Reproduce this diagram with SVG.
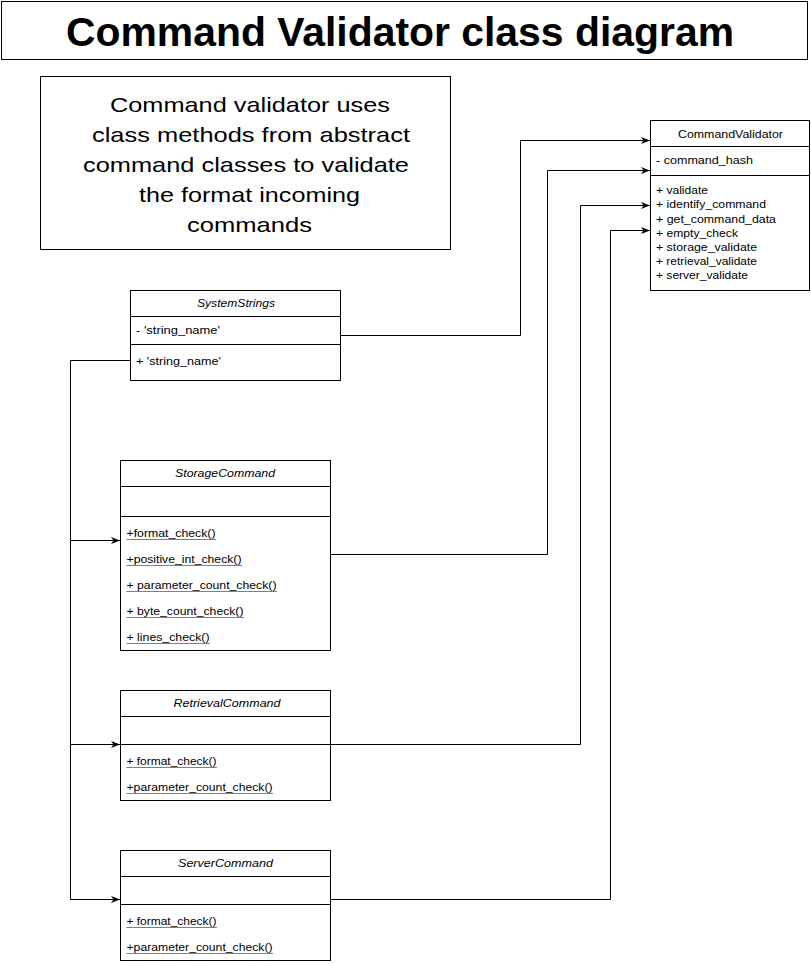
<svg xmlns="http://www.w3.org/2000/svg" width="811" height="964" viewBox="0 0 811 964">
<defs>
<marker id="arr" markerWidth="10" markerHeight="8" refX="9" refY="4" orient="auto" markerUnits="userSpaceOnUse">
<path d="M0,0.5 L9,4 L0,7.5 L2.5,4 Z" fill="#000"/>
</marker>
<style>
.box{fill:#fff;stroke:#000;stroke-width:1}
.ln{stroke:#000;stroke-width:1;fill:none}
.ul{stroke:#808080;stroke-width:1;fill:none}
.t{font-family:"Liberation Sans",Arial,sans-serif;font-size:11px;fill:#000}
.ti{font-family:"Liberation Sans",Arial,sans-serif;font-size:11px;font-style:italic;fill:#000;text-anchor:middle}
.tc{font-family:"Liberation Sans",Arial,sans-serif;font-size:11px;fill:#000;text-anchor:middle}
.nt{font-family:"Liberation Sans",Arial,sans-serif;font-size:21px;fill:#000;text-anchor:middle}
.con{stroke:#000;stroke-width:1;fill:none;marker-end:url(#arr)}
</style>
</defs>
<rect width="811" height="964" fill="#fff"/>
<g id="title">
<rect class="box" x="1.5" y="1.5" width="806" height="58"/>
<text x="400" y="46" font-family="Liberation Sans, Arial, sans-serif" font-size="41" font-weight="bold" text-anchor="middle" textLength="668" lengthAdjust="spacingAndGlyphs">Command Validator class diagram</text>
</g>
<g id="note">
<rect class="box" x="40.5" y="76.5" width="410" height="173"/>
<text class="nt" x="250" y="112" textLength="280" lengthAdjust="spacingAndGlyphs">Command validator uses</text>
<text class="nt" x="251" y="142" textLength="318" lengthAdjust="spacingAndGlyphs">class methods from abstract</text>
<text class="nt" x="246" y="172" textLength="326" lengthAdjust="spacingAndGlyphs">command classes to validate</text>
<text class="nt" x="249.5" y="202" textLength="221" lengthAdjust="spacingAndGlyphs">the format incoming</text>
<text class="nt" x="249.5" y="232" textLength="125" lengthAdjust="spacingAndGlyphs">commands</text>
</g>
<g id="CommandValidator">
<rect class="box" x="650.5" y="120.5" width="159" height="170"/>
<line class="ln" x1="650.5" y1="146.5" x2="809.5" y2="146.5"/>
<line class="ln" x1="650.5" y1="175.5" x2="809.5" y2="175.5"/>
<text class="tc" x="730.5" y="138" textLength="105" lengthAdjust="spacingAndGlyphs">CommandValidator</text>
<text class="t" x="656" y="164" textLength="97" lengthAdjust="spacingAndGlyphs">- command_hash</text>
<text class="t" x="656" y="194" textLength="52" lengthAdjust="spacingAndGlyphs">+ validate</text>
<text class="t" x="656" y="208" textLength="110" lengthAdjust="spacingAndGlyphs">+ identify_command</text>
<text class="t" x="656" y="222.5" textLength="120" lengthAdjust="spacingAndGlyphs">+ get_command_data</text>
<text class="t" x="656" y="236.5" textLength="82" lengthAdjust="spacingAndGlyphs">+ empty_check</text>
<text class="t" x="656" y="250.5" textLength="101" lengthAdjust="spacingAndGlyphs">+ storage_validate</text>
<text class="t" x="656" y="265" textLength="101" lengthAdjust="spacingAndGlyphs">+ retrieval_validate</text>
<text class="t" x="656" y="279" textLength="92" lengthAdjust="spacingAndGlyphs">+ server_validate</text>
</g>
<g id="SystemStrings">
<rect class="box" x="130.5" y="290.5" width="210" height="90"/>
<line class="ln" x1="130.5" y1="316.5" x2="340.5" y2="316.5"/>
<line class="ln" x1="130.5" y1="344.5" x2="340.5" y2="344.5"/>
<text class="ti" x="236" y="307" textLength="78" lengthAdjust="spacingAndGlyphs">SystemStrings</text>
<text class="t" x="136" y="334" textLength="84" lengthAdjust="spacingAndGlyphs">- 'string_name'</text>
<text class="t" x="136" y="365" textLength="85" lengthAdjust="spacingAndGlyphs">+ 'string_name'</text>
</g>
<g id="StorageCommand">
<rect class="box" x="120.5" y="460.5" width="210" height="190"/>
<line class="ln" x1="120.5" y1="486.5" x2="330.5" y2="486.5"/>
<line class="ln" x1="120.5" y1="516.5" x2="330.5" y2="516.5"/>
<text class="ti" x="225" y="477" textLength="100" lengthAdjust="spacingAndGlyphs">StorageCommand</text>
<text class="t" x="126.5" y="537" textLength="89" lengthAdjust="spacingAndGlyphs">+format_check()</text>
<text class="t" x="126.5" y="563" textLength="115" lengthAdjust="spacingAndGlyphs">+positive_int_check()</text>
<text class="t" x="126.5" y="589" textLength="150" lengthAdjust="spacingAndGlyphs">+ parameter_count_check()</text>
<text class="t" x="126.5" y="615" textLength="117" lengthAdjust="spacingAndGlyphs">+ byte_count_check()</text>
<text class="t" x="126.5" y="641" textLength="83" lengthAdjust="spacingAndGlyphs">+ lines_check()</text>
<path class="ul" d="M126.5,539.5H216M126.5,565.5H242M126.5,591.5H277M126.5,617.5H244M126.5,643.5H210"/>
</g>
<g id="RetrievalCommand">
<rect class="box" x="120.5" y="690.5" width="210" height="110"/>
<line class="ln" x1="120.5" y1="716.5" x2="330.5" y2="716.5"/>
<line class="ln" x1="120.5" y1="744.5" x2="330.5" y2="744.5"/>
<text class="ti" x="227" y="707" textLength="107" lengthAdjust="spacingAndGlyphs">RetrievalCommand</text>
<text class="t" x="126.5" y="765" textLength="90" lengthAdjust="spacingAndGlyphs">+ format_check()</text>
<text class="t" x="126.5" y="791" textLength="146" lengthAdjust="spacingAndGlyphs">+parameter_count_check()</text>
<path class="ul" d="M126.5,767.5H217M126.5,793.5H273"/>
</g>
<g id="ServerCommand">
<rect class="box" x="120.5" y="850.5" width="210" height="110"/>
<line class="ln" x1="120.5" y1="876.5" x2="330.5" y2="876.5"/>
<line class="ln" x1="120.5" y1="904.5" x2="330.5" y2="904.5"/>
<text class="ti" x="225.5" y="867" textLength="95" lengthAdjust="spacingAndGlyphs">ServerCommand</text>
<text class="t" x="126.5" y="925" textLength="90" lengthAdjust="spacingAndGlyphs">+ format_check()</text>
<text class="t" x="126.5" y="951" textLength="146" lengthAdjust="spacingAndGlyphs">+parameter_count_check()</text>
<path class="ul" d="M126.5,927.5H217M126.5,953.5H273"/>
</g>
<g id="connectors">
<polyline class="con" points="340.5,335.5 520.5,335.5 520.5,140.5 650,140.5"/>
<polyline class="con" points="330.5,554.5 547.5,554.5 547.5,170.5 650,170.5"/>
<polyline class="con" points="330.5,744.5 580.5,744.5 580.5,205.5 650,205.5"/>
<polyline class="con" points="330.5,899.5 610.5,899.5 610.5,230.5 650,230.5"/>
<polyline class="ln" points="130.5,360.5 70.5,360.5 70.5,899.5"/>
<polyline class="con" points="70.5,540.5 120,540.5"/>
<polyline class="con" points="70.5,744.5 120,744.5"/>
<polyline class="con" points="70.5,899.5 120,899.5"/>
</g>
</svg>
